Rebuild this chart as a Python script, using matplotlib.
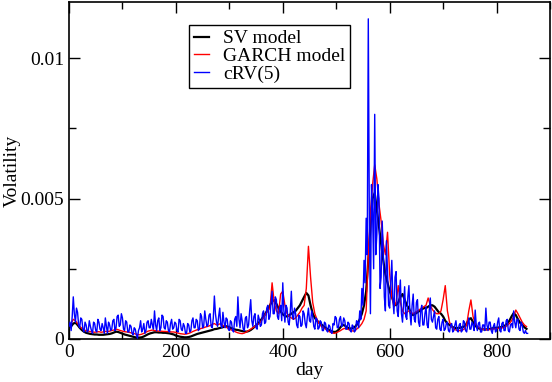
import numpy as np
import matplotlib
matplotlib.use("Agg")
import matplotlib.pyplot as plt
from matplotlib.ticker import MultipleLocator, FuncFormatter

# volatility values, in units of 1e-4
# SV and GARCH: one value every 4 days
sv_vol = [
	4.0, 4.5, 5.5, 5.8, 5.0, 4.0, 3.2, 2.6, 2.2, 2.0,
	1.8, 1.7, 1.6, 1.6, 1.5, 1.5, 1.5, 1.6, 1.7, 1.8,
	2.0, 2.3, 2.6, 2.5, 2.2, 1.9, 1.6, 1.4, 1.2, 1.0,
	0.8, 0.6, 0.5, 0.5, 0.6, 0.9, 1.3, 1.7, 2.0, 2.2,
	2.4, 2.4, 2.3, 2.3, 2.2, 2.2, 2.1, 2.0, 1.8, 1.6,
	1.2, 1.0, 0.8, 0.7, 0.6, 0.6, 0.7, 0.9, 1.2, 1.5,
	1.8, 2.0, 2.2, 2.4, 2.6, 2.8, 3.0, 3.2, 3.5, 3.6,
	3.8, 4.0, 4.2, 4.5, 4.5, 4.2, 3.8, 3.5, 3.3, 3.2,
	3.0, 2.8, 2.7, 2.6, 2.8, 3.2, 3.8, 4.5, 5.2, 6.0,
	7.0, 8.0, 9.2, 10.5, 12.0, 13.5, 13.8, 12.5, 11.0, 9.8,
	8.8, 8.2, 8.0, 8.5, 9.0, 9.5, 10.0, 11.0, 12.0, 13.5,
	15.0, 16.4, 15.5, 12.0, 9.0, 7.5, 6.5, 5.8, 5.2, 4.6,
	4.0, 3.5, 3.0, 2.7, 2.5, 2.6, 3.2, 4.2, 5.0, 4.8,
	4.2, 3.8, 3.7, 3.9, 4.5, 5.5, 7.0, 9.0, 12.0, 17.0,
	28.0, 40.0, 50.0, 52.0, 46.0, 40.0, 34.0, 28.0, 23.0, 20.0,
	17.0, 15.0, 13.0, 12.0, 13.0, 15.0, 16.0, 14.0, 12.0, 11.0,
	9.0, 8.5, 9.0, 9.5, 10.0, 10.5, 11.0, 11.0, 11.5, 12.0,
	12.0, 11.5, 10.5, 9.5, 9.0, 8.0, 6.5, 5.5, 5.0, 4.5,
	4.0, 3.9, 3.9, 4.0, 4.2, 4.5, 5.5, 7.0, 7.4, 6.0,
	4.8, 4.0, 3.7, 3.5, 3.4, 3.4, 3.5, 3.6, 3.8, 3.9,
	4.0, 4.1, 4.2, 4.4, 4.8, 5.5, 6.5, 8.0, 9.2, 8.5,
	7.0, 5.8, 5.0, 4.2, 3.6,
]

garch_vol = [
	5.0, 5.5, 7.0, 6.5, 5.5, 4.5, 3.8, 3.2, 3.0, 2.8,
	2.6, 2.5, 2.4, 2.5, 2.6, 2.4, 2.5, 2.7, 2.6, 2.8,
	3.0, 3.2, 3.5, 3.3, 3.0, 2.8, 2.6, 2.5, 2.4, 2.2,
	2.0, 1.8, 1.6, 1.5, 1.7, 2.0, 2.4, 2.8, 3.0, 3.2,
	3.0, 2.9, 2.8, 2.8, 2.7, 2.7, 2.6, 2.6, 2.5, 2.5,
	2.3, 2.1, 1.9, 1.8, 1.7, 1.8, 2.0, 2.3, 2.7, 3.0,
	3.3, 3.5, 3.8, 4.0, 4.3, 4.5, 4.8, 5.2, 5.5, 5.0,
	5.2, 5.5, 4.8, 4.5, 4.0, 3.5, 3.2, 3.0, 2.5, 2.2,
	2.0, 1.9, 2.1, 2.5, 3.0, 3.5, 4.0, 4.5, 5.0, 5.5,
	6.5, 7.5, 9.0, 10.0, 11.0, 20.0, 13.0, 10.0, 9.0, 16.0,
	17.0, 12.0, 9.0, 8.0, 7.5, 7.0, 7.5, 8.5, 9.5, 11.0,
	12.0, 18.0, 33.0, 22.0, 13.0, 9.0, 7.0, 5.5, 4.5, 4.0,
	3.5, 3.0, 2.5, 2.2, 2.0, 2.2, 2.6, 3.0, 3.5, 3.8,
	3.6, 3.3, 3.0, 2.8, 3.2, 3.8, 4.5, 5.5, 7.0, 10.0,
	30.0, 45.0, 55.0, 62.0, 57.0, 48.0, 42.0, 34.0, 30.0, 38.0,
	23.0, 15.0, 11.5, 13.0, 19.0, 13.0, 10.0, 9.0, 9.5, 10.0,
	9.5, 9.0, 9.5, 10.0, 10.5, 11.0, 11.5, 12.0, 14.6, 12.0,
	10.5, 9.5, 9.0, 9.0, 10.0, 14.0, 19.0, 10.0, 6.0, 4.4,
	3.5, 3.2, 3.0, 3.0, 3.2, 3.6, 5.0, 10.0, 13.9, 8.0,
	5.5, 4.5, 4.0, 3.6, 3.4, 3.3, 3.3, 3.4, 3.5, 3.6,
	3.7, 3.8, 3.9, 4.0, 4.3, 4.8, 5.5, 6.5, 8.0, 10.3,
	9.0, 7.5, 6.0, 5.0, 4.4,
]

# cRV(5): one value every 2 days
crv_vol = [
	4.5, 6.0, 3.0, 8.0, 15.0, 9.0, 6.0, 11.0, 9.5, 5.0, 4.0, 7.5, 7.0, 3.5, 2.5, 6.0, 5.0, 2.5, 3.0, 6.5,
	4.5, 3.0, 2.0, 6.0, 5.5, 3.0, 2.5, 7.0, 6.0, 3.5, 3.0, 5.5, 4.0, 2.0, 7.5, 4.5, 2.0, 6.0, 5.0, 3.0,
	3.5, 6.5, 7.0, 3.0, 4.0, 8.0, 8.5, 4.5, 5.0, 9.0, 7.5, 3.5, 3.0, 6.5, 6.0, 2.5, 2.5, 5.0, 4.5, 2.0,
	1.5, 4.0, 3.5, 1.5, 0.3, 3.0, 4.0, 6.5, 2.5, 3.5, 5.5, 2.0, 3.0, 6.0, 6.5, 4.0, 4.0, 7.0, 5.0, 3.5,
	10.0, 5.0, 3.0, 6.5, 7.5, 3.0, 4.0, 8.5, 8.0, 4.0, 3.5, 6.5, 6.0, 3.0, 2.5, 5.5, 7.0, 3.5, 4.0, 6.0,
	5.5, 3.0, 2.5, 7.0, 6.5, 3.5, 3.0, 5.5, 4.5, 2.0, 2.0, 5.5, 5.0, 2.5, 3.0, 6.5, 7.5, 4.0, 4.0, 7.0,
	6.5, 3.0, 3.5, 9.0, 8.0, 4.0, 4.5, 10.0, 7.0, 4.5, 5.0, 8.5, 9.0, 4.5, 4.0, 7.5, 15.3, 9.0, 6.0, 4.5,
	8.0, 11.0, 5.0, 4.0, 9.5, 6.0, 4.0, 7.5, 7.0, 3.5, 3.0, 6.5, 6.0, 3.0, 2.5, 7.0, 8.0, 4.5, 15.0, 7.0,
	4.0, 9.0, 6.5, 3.5, 3.0, 7.5, 8.0, 4.0, 5.0, 10.0, 14.0, 6.5, 4.5, 8.0, 9.0, 4.0, 3.5, 8.5, 7.0, 4.5,
	5.0, 9.0, 10.0, 5.5, 6.0, 11.0, 12.0, 7.0, 8.0, 13.0, 17.0, 9.0, 9.0, 15.0, 14.0, 8.0, 7.0, 11.0, 12.0, 6.5,
	20.0, 10.0, 6.0, 12.0, 11.0, 6.0, 5.0, 9.5, 17.0, 8.0, 7.0, 11.0, 9.0, 5.0, 4.0, 8.5, 8.0, 4.5, 5.0, 10.0,
	9.0, 5.5, 4.0, 8.0, 11.0, 6.5, 6.0, 10.0, 8.0, 4.5, 3.5, 7.5, 7.0, 3.5, 4.0, 6.5, 6.0, 3.0, 3.0, 6.0,
	5.5, 3.0, 2.5, 5.0, 4.5, 2.5, 2.0, 5.5, 5.0, 8.0, 7.5, 4.0, 4.0, 7.0, 8.0, 4.5, 5.0, 7.5, 6.5, 3.5,
	3.5, 6.0, 5.5, 3.0, 2.5, 5.0, 4.5, 2.5, 3.0, 6.5, 6.0, 4.0, 10.0, 7.0, 18.0, 12.0, 28.0, 20.0, 43.0, 30.0,
	114.0, 40.0, 9.0, 55.0, 45.0, 25.0, 80.0, 30.0, 37.0, 55.0, 50.0, 18.0, 22.0, 42.0, 31.0, 15.0, 10.0, 35.0, 24.0, 12.0,
	11.0, 20.0, 28.0, 14.0, 9.0, 22.0, 24.0, 10.0, 8.0, 16.0, 21.0, 9.0, 6.0, 12.0, 18.6, 8.0, 7.0, 15.0, 19.0, 9.0,
	5.0, 12.0, 16.0, 7.0, 6.0, 13.0, 14.0, 6.0, 4.5, 10.0, 12.0, 5.0, 5.0, 9.0, 11.5, 5.0, 4.0, 10.0, 14.6, 7.0,
	6.0, 8.0, 10.0, 4.0, 3.5, 7.0, 8.0, 3.5, 3.0, 6.0, 7.0, 3.0, 3.5, 5.5, 6.0, 3.0, 2.5, 5.0, 5.5, 2.5,
	3.0, 5.0, 6.5, 3.0, 2.5, 5.0, 5.5, 2.5, 3.0, 6.5, 6.0, 3.0, 2.5, 5.0, 7.5, 3.5, 3.5, 6.0, 5.0, 3.0,
	10.3, 5.0, 3.0, 5.5, 6.0, 2.5, 2.5, 5.0, 5.0, 3.0, 11.0, 5.0, 3.0, 6.0, 6.0, 3.0, 2.0, 4.5, 5.5, 2.5,
	3.0, 6.0, 7.5, 3.0, 2.5, 5.5, 6.0, 3.0, 3.0, 6.5, 7.0, 3.0, 2.5, 5.0, 5.5, 4.0, 10.0, 6.0, 4.0, 7.0,
	7.0, 3.5, 3.0, 6.0, 5.0, 2.5, 2.0, 3.0, 2.0, 2.0,
]

days = 4 * np.arange(len(sv_vol))
crv_days = 2 * np.arange(len(crv_vol))
scale = 1e-4

plt.rcParams['font.family'] = ['Liberation Serif', 'DejaVu Serif']

fig = plt.figure(figsize=(5.52, 3.82), dpi=100)
ax = fig.add_axes([0.125, 0.1126, 0.8714, 0.8822])

ax.plot(days, np.array(sv_vol) * scale, color='black', lw=1.6, label='SV model', zorder=2)
ax.plot(days, np.array(garch_vol) * scale, color='red', lw=1.0, label='GARCH model', zorder=3)
ax.plot(crv_days, np.array(crv_vol) * scale, color='blue', lw=1.0, label='cRV(5)', zorder=4)

ax.set_xlim(0, 900)
ax.set_ylim(0, 0.012)
ax.xaxis.set_major_locator(MultipleLocator(200))
ax.xaxis.set_minor_locator(MultipleLocator(100))
ax.yaxis.set_major_locator(MultipleLocator(0.005))
ax.yaxis.set_minor_locator(MultipleLocator(0.0025))
ax.yaxis.set_major_formatter(FuncFormatter(lambda v, p: '%g' % round(v, 6)))
ax.tick_params(which='both', direction='in', top=True, right=True, labelsize=14, width=1.0)
ax.tick_params(which='major', length=8)
ax.tick_params(which='minor', length=5)
for s in ax.spines.values():
	s.set_linewidth(1.2)

ax.set_xlabel('day', fontsize=14, labelpad=1)
ax.set_ylabel('Volatility', fontsize=14)
ax.yaxis.set_label_coords(-0.1, 0.5)

leg = ax.legend(loc='upper left', bbox_to_anchor=(0.2495, 0.932), borderaxespad=0,
	fontsize=14, handlelength=0.8, handletextpad=0.7, labelspacing=0.0,
	fancybox=False, framealpha=1, edgecolor='black', borderpad=0.25)
leg.get_frame().set_linewidth(1.0)

fig.savefig('out.png', dpi=100)
